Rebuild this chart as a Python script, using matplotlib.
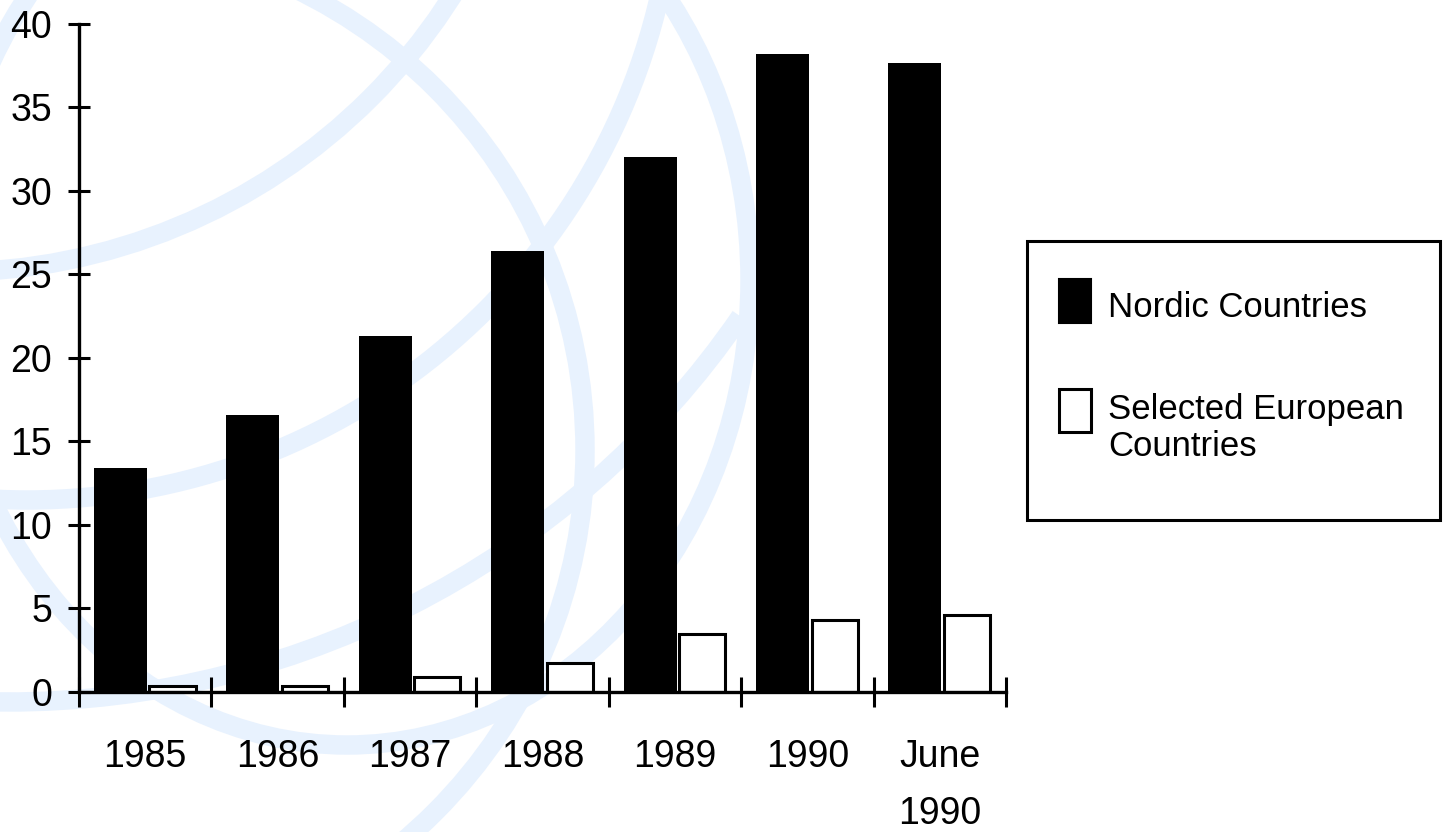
import numpy as np
import matplotlib
matplotlib.use('Agg')
import matplotlib.pyplot as plt
from matplotlib.patches import Ellipse, Arc, Rectangle

# data
categories = ['1985', '1986', '1987', '1988', '1989', '1990', 'June\n1990']
nordic = [13.4, 16.55, 21.3, 26.4, 32.0, 38.2, 37.65]
european = [0.35, 0.35, 0.9, 1.75, 3.5, 4.3, 4.6]
series_names = ['Nordic Countries', 'Selected European\nCountries']
yticks = [0, 5, 10, 15, 20, 25, 30, 35, 40]

plt.rcParams['font.family'] = ['Liberation Sans', 'DejaVu Sans']

W, H = 1443, 832
fig = plt.figure(figsize=(W / 100, H / 100), dpi=100)

# light blue watermark arcs in the background (pixel coords)
bg = fig.add_axes([0, 0, 1, 1], zorder=0)
bg.set_xlim(0, W)
bg.set_ylim(H, 0)
bg.axis('off')
wm = '#E8F2FE'
for cx, cy, w, h in [(-50, -323, 1190, 1190),
                     (73, 450, 1024, 1024),
                     (347, 280, 806, 930),
                     (27, -149, 1298, 1298)]:
    bg.add_patch(Ellipse((cx, cy), w, h, fill=False, edgecolor=wm, lw=14))
bg.add_patch(Arc((8, -187), 1778, 1778, theta1=34.5, theta2=92, edgecolor=wm, lw=14))

# main chart
ax = fig.add_axes([79 / W, 1 - 692 / H, 927 / W, 668.5 / H], zorder=1)
ax.set_facecolor('none')
x = np.arange(len(categories))
ax.bar(x - 0.388, nordic, width=0.40, align='edge', color='black', edgecolor='black', lw=0)
ax.bar(x + 0.032, european, width=0.348, align='edge', color='white', edgecolor='black', lw=2.2)

ax.set_xlim(-0.5, len(categories) - 0.5)
ax.set_ylim(0, 40)
for s in ['top', 'right']:
    ax.spines[s].set_visible(False)
for s in ['left', 'bottom']:
    ax.spines[s].set_linewidth(2.4)

ax.set_yticks(yticks)
ax.tick_params(axis='y', direction='inout', length=16.5, width=2.2, labelsize=27, pad=11)
ax.set_xticks(np.arange(len(categories) + 1) - 0.5)
ax.set_xticklabels([])
ax.tick_params(axis='x', which='major', direction='inout', length=22, width=2.2)
ax.set_xticks(x, categories, minor=True)
ax.tick_params(axis='x', which='minor', length=0, labelsize=27, pad=34)
for t in ax.get_xticklabels(minor=True):
    t.set_linespacing(1.75)

# legend box
lg = fig.add_axes([0, 0, 1, 1], zorder=2)
lg.set_xlim(0, W)
lg.set_ylim(H, 0)
lg.axis('off')
lg.add_patch(Rectangle((1027, 241), 413, 279, fill=False, edgecolor='black', lw=2.2))
lg.add_patch(Rectangle((1059, 279), 32, 44, facecolor='black', edgecolor='black', lw=1.5))
lg.add_patch(Rectangle((1059, 389), 32, 43, facecolor='white', edgecolor='black', lw=2.2))
lg.text(1108, 317, series_names[0], fontsize=25, va='baseline', ha='left')
lg.text(1108, 393, series_names[1], fontsize=25, va='top', ha='left', linespacing=1.15)

fig.savefig('out.png', dpi=100)
